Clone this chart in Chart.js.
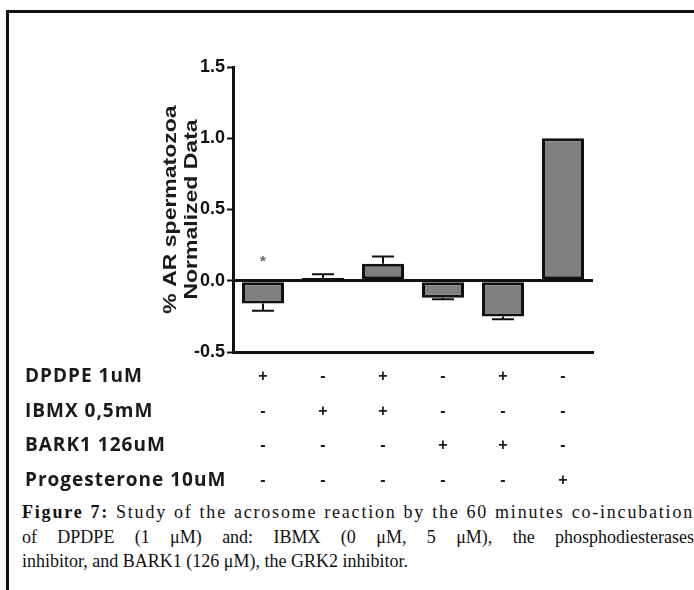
<!DOCTYPE html>
<html>
<head>
<meta charset="utf-8">
<script src="https://cdn.jsdelivr.net/npm/chart.js@4"></script>
<style>
  body { margin: 0; background: #fff; width: 694px; height: 590px; overflow: hidden; position: relative; }
  #frame { position: absolute; left: 6px; top: 10px; width: 720px; height: 620px; border: 3px solid #111; box-sizing: border-box; }
  #wrap { position: absolute; left: 0; top: 0; width: 694px; height: 500px; }
  #caption { position: absolute; left: 22px; top: 500px; width: 672px; font-family: "Liberation Serif", serif; font-size: 18px; color: #111; }
  #caption div { line-height: 24.5px; text-align: justify; white-space: nowrap; }
  #caption .j { text-align-last: justify; }
  #caption .first { letter-spacing: 1.8px; }
</style>
</head>
<body>
<div id="frame"></div>
<div id="wrap"><canvas id="chart"></canvas></div>
<div id="caption">
  <div class="j first"><b>Figure 7:</b> Study of the acrosome reaction by the 60 minutes co-incubation</div>
  <div class="j">of DPDPE (1 μM) and: IBMX (0 μM, 5 μM), the phosphodiesterases</div>
  <div>inhibitor, and BARK1 (126 μM), the GRK2 inhibitor.</div>
</div>
<script>
// groups (one bar each)
const groups = ["DPDPE", "IBMX", "DPDPE+IBMX", "BARK1", "DPDPE+BARK1", "Progesterone"];
const values = [-0.16, 0.02, 0.12, -0.12, -0.25, 1.0];
const errors = [0.05, 0.025, 0.05, 0.01, 0.02, 0];
const stars = ["*", "", "", "", "", ""];
const starLevel = 0.155;

// treatment table under the chart
const rowLabels = ["DPDPE 1uM", "IBMX 0,5mM", "BARK1 126uM", "Progesterone 10uM"];
const rowDPDPE = ["+", "-", "+", "-", "+", "-"];
const rowIBMX = ["-", "+", "+", "-", "-", "-"];
const rowBARK1 = ["-", "-", "-", "+", "+", "-"];
const rowProg = ["-", "-", "-", "-", "-", "+"];
const rows = [rowDPDPE, rowIBMX, rowBARK1, rowProg];

const yTicks = [-0.5, 0, 0.5, 1.0, 1.5];
const yTitle = ["% AR spermatozoa", "Normalized Data"];

const extras = {
  id: "extras",
  afterDatasetsDraw(chart) {
    const ctx = chart.ctx;
    const y = chart.scales.y;
    const x = chart.scales.x;
    const meta = chart.getDatasetMeta(0);
    ctx.save();
    // error bars
    ctx.strokeStyle = "#111";
    ctx.lineWidth = 2;
    values.forEach((v, i) => {
      if (!errors[i]) return;
      const cx = meta.data[i].x;
      const dir = v < 0 ? -1 : 1;
      const y0 = y.getPixelForValue(v);
      const y1 = y.getPixelForValue(v + dir * errors[i]);
      ctx.beginPath();
      ctx.moveTo(cx, y0);
      ctx.lineTo(cx, y1);
      ctx.moveTo(cx - 11, y1);
      ctx.lineTo(cx + 11, y1);
      ctx.stroke();
    });
    // significance marks
    ctx.fillStyle = "#666";
    ctx.font = "bold 15px 'Liberation Sans'";
    ctx.textAlign = "center";
    ctx.textBaseline = "middle";
    stars.forEach((s, i) => {
      if (s) ctx.fillText(s, meta.data[i].x, y.getPixelForValue(starLevel) + 3);
    });
    // y title, squeezed like the original figure
    const cy = (chart.chartArea.top + chart.chartArea.bottom) / 2;
    ctx.fillStyle = "#1a1a1a";
    ctx.font = "bold 23px 'Liberation Sans'";
    yTitle.forEach((t, k) => {
      ctx.save();
      ctx.translate(171 + k * 21, cy);
      ctx.rotate(-Math.PI / 2);
      ctx.scale(1, 0.78);
      ctx.fillText(t, 0, 0);
      ctx.restore();
    });
    // treatment table
    rowLabels.forEach((lab, r) => {
      const ry = x.top + 25 + r * 34.4;
      ctx.fillStyle = "#1a1a1a";
      ctx.font = "bold 19px 'Open Sans'";
      ctx.letterSpacing = "1px";
      ctx.textAlign = "left";
      ctx.fillText(lab, 25, ry);
      ctx.letterSpacing = "0px";
      ctx.font = "bold 16px 'Liberation Sans'";
      ctx.textAlign = "center";
      rows[r].forEach((s, i) => {
        ctx.fillText(s, x.getPixelForValue(i), ry);
      });
    });
    ctx.restore();
  }
};

new Chart(document.getElementById("chart"), {
  type: "bar",
  data: {
    labels: groups,
    datasets: [{
      data: values,
      backgroundColor: "#808080",
      borderColor: "#111",
      borderWidth: 3,
      borderSkipped: false,
      barPercentage: 0.7,
      categoryPercentage: 1.0
    }]
  },
  options: {
    responsive: true,
    maintainAspectRatio: false,
    animation: false,
    layout: { padding: { top: 67, right: 101, left: 0, bottom: 0 } },
    plugins: { legend: { display: false }, tooltip: { enabled: false } },
    scales: {
      x: {
        grid: { display: false },
        border: { color: "#111", width: 3 },
        ticks: { display: false },
        afterFit(scale) { scale.height = 148; }
      },
      y: {
        min: -0.5,
        max: 1.5,
        afterBuildTicks(scale) { scale.ticks = yTicks.map(v => ({ value: v })); },
        ticks: {
          color: "#111",
          padding: 2,
          font: { family: "'Liberation Sans'", weight: "bold", size: 18 },
          callback: v => v.toFixed(1)
        },
        grid: {
          color: c => (c.tick && c.tick.value === 0 ? "#111" : "transparent"),
          lineWidth: 3,
          tickColor: "#111",
          tickLength: 6,
          tickWidth: 2
        },
        border: { color: "#111", width: 3 },
        afterFit(scale) { scale.width = 233; }
      }
    }
  },
  plugins: [extras]
});
</script>
</body>
</html>
